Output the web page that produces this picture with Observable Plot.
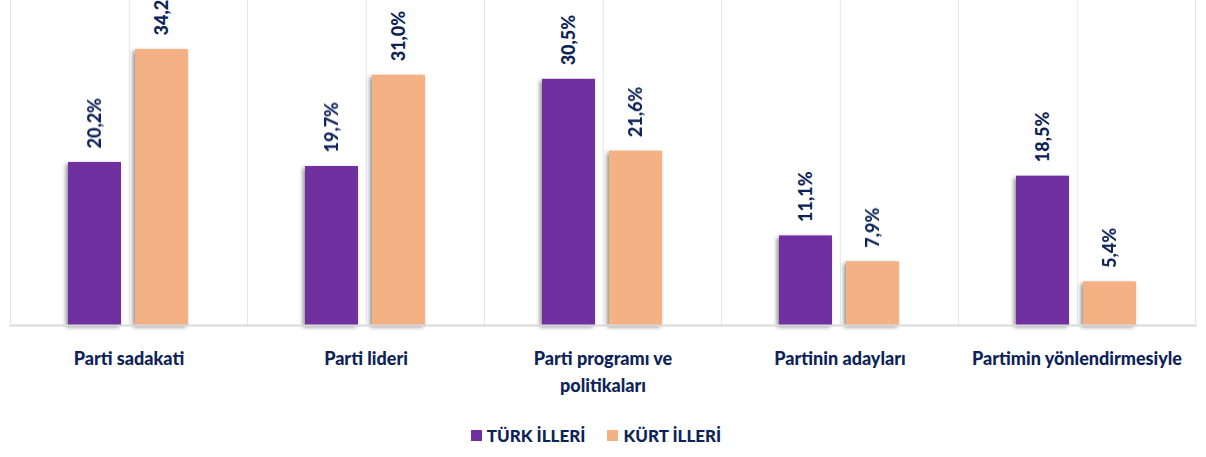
<!DOCTYPE html>
<html>
<head>
<meta charset="utf-8">
<script src="https://cdn.jsdelivr.net/npm/d3@7"></script>
<script src="https://cdn.jsdelivr.net/npm/@observablehq/plot@0.6"></script>
<style>
  html, body { margin: 0; padding: 0; background: #fff; }
  body { width: 1206px; height: 457px; overflow: hidden; font-family: Lato, "Open Sans", sans-serif; }
  #legend { display: flex; justify-content: center; align-items: center; gap: 22px; margin-top: 25px; padding-right: 14px;
    font: 900 17px Lato, "Open Sans", sans-serif; color: #0d2358; }
  #legend .item { display: flex; align-items: center; gap: 5px; }
  #legend .sw { width: 11px; height: 11px; display: inline-block; }
</style>
</head>
<body>
<div id="chart"></div>
<div id="legend"></div>
<script>
const categories = ["Parti sadakati", "Parti lideri", "Parti programı ve\npolitikaları", "Partinin adayları", "Partimin yönlendirmesiyle"];
const seriesNames = ["TÜRK İLLERİ", "KÜRT İLLERİ"];
const turkValues = [20.2, 19.7, 30.5, 11.1, 18.5];
const kurtValues = [34.2, 31.0, 21.6, 7.9, 5.4];
const seriesColors = ["#7030a0", "#f4b183"];
const textColor = "#0d2358";

const data = [];
categories.forEach((c, i) => {
  data.push({cat: c, series: seriesNames[0], value: turkValues[i]});
  data.push({cat: c, series: seriesNames[1], value: kurtValues[i]});
});
const fmt = v => v.toFixed(1).replace(".", ",") + "%";

const chart = Plot.plot({
  width: 1206,
  height: 400,
  marginLeft: 8,
  marginRight: 10,
  marginTop: 0,
  marginBottom: 75,
  style: {fontFamily: 'Lato, "Open Sans", sans-serif', background: "#fff", overflow: "visible"},
  fx: {domain: categories, padding: 0, axis: null, label: null},
  x: {domain: seriesNames, paddingInner: 0.207, paddingOuter: 0.864, axis: null, label: null},
  y: {domain: [0, 40.27], axis: null, label: null},
  color: {domain: seriesNames, range: seriesColors},
  marks: [
    Plot.frame({anchor: "left", stroke: "#e6e6e6", strokeWidth: 1}),
    Plot.frame({anchor: "left", stroke: "#e6e6e6", strokeWidth: 1, dx: 118.8}),
    Plot.frame({anchor: "right", stroke: "#e6e6e6", strokeWidth: 1}),
    Plot.barY(data, {fx: "cat", x: "series", y: "value", fill: "series"}),
    Plot.frame({anchor: "bottom", stroke: "#d9d9d9", strokeWidth: 2}),
    Plot.text(data, {fx: "cat", x: "series", y: "value", text: d => fmt(d.value), rotate: -90,
      textAnchor: "start", dy: -14, fill: textColor, fontWeight: 900, fontSize: 18}),
    Plot.text(categories, {fx: d => d, text: d => d, frameAnchor: "bottom", lineAnchor: "top",
      dy: 20, lineHeight: 1.5, fill: textColor, fontWeight: 900, fontSize: 18})
  ]
});
document.getElementById("chart").appendChild(chart);
chart.querySelectorAll('g[aria-label="bar"]').forEach(g => {
  g.style.filter = "drop-shadow(-2px 2px 2px rgba(0,0,0,0.45))";
});

const legend = document.getElementById("legend");
seriesNames.forEach((s, i) => {
  const item = document.createElement("div");
  item.className = "item";
  const sw = document.createElement("span");
  sw.className = "sw";
  sw.style.background = seriesColors[i];
  const t = document.createElement("span");
  t.textContent = s;
  item.appendChild(sw);
  item.appendChild(t);
  legend.appendChild(item);
});
</script>
</body>
</html>
